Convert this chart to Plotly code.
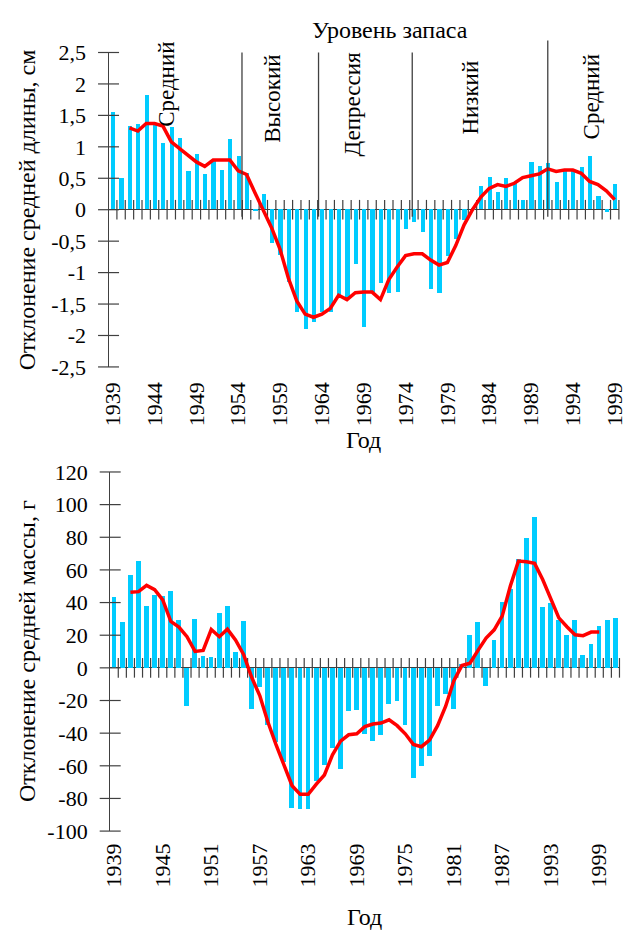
import plotly.graph_objects as go

# ---------------- data ----------------
len_years = list(range(1939, 2000))
len_dev = [1.55, 0.50, 1.33, 1.35, 1.81, 1.34, 1.05, 1.30, 1.13, 0.61,
           0.88, 0.56, 0.76, 0.62, 1.11, 0.85, 0.58, -0.03, 0.24, -0.54,
           -0.72, -1.15, -1.63, -1.91, -1.79, -1.63, -1.63, -1.38, -1.40, -0.87,
           -1.87, -1.32, -1.18, -1.34, -1.31, -0.32, -0.21, -0.37, -1.27, -1.34,
           -0.75, -0.48, -0.17, 0.02, 0.37, 0.52, 0.27, 0.49, 0.42, 0.15,
           0.75, 0.68, 0.73, 0.44, 0.61, 0.61, 0.67, 0.85, 0.21, -0.04,
           0.40]
len_ma_years = list(range(1941, 2000))
len_ma = [1.30, 1.25, 1.37, 1.37, 1.33, 1.08, 0.97, 0.86, 0.76, 0.69,
          0.79, 0.79, 0.79, 0.62, 0.56, 0.27, 0.00, -0.29, -0.63, -1.09,
          -1.45, -1.66, -1.71, -1.66, -1.57, -1.36, -1.43, -1.32, -1.31, -1.31,
          -1.43, -1.11, -0.91, -0.73, -0.70, -0.70, -0.80, -0.88, -0.84, -0.57,
          -0.24, 0.00, 0.20, 0.34, 0.40, 0.37, 0.42, 0.51, 0.54, 0.57,
          0.65, 0.61, 0.63, 0.63, 0.58, 0.45, 0.40, 0.30, 0.16]

mass_years = list(range(1939, 2002))
mass_dev = [43.3, 28.0, 57.0, 65.4, 38.0, 44.7, 43.9, 47.3, 29.4, -23.5,
            30.2, 7.4, 6.6, 33.4, 38.0, 9.9, 28.8, -25.0, -12.0, -35.0,
            -45.7, -57.7, -86.1, -86.7, -86.7, -69.0, -59.2, -49.3, -62.2, -26.6,
            -25.8, -40.4, -44.9, -41.0, -21.9, -20.1, -34.8, -67.2, -60.4, -53.9,
            -23.5, -15.9, -25.0, 2.4, 19.9, 28.2, -11.0, 17.3, 40.6, 48.1,
            66.6, 79.3, 92.2, 37.2, 39.6, 29.6, 19.9, 29.6, 7.8, 14.9,
            25.8, 29.6, 30.6]
mass_ma_years = list(range(1941, 2000))
mass_ma = [46.3, 46.7, 50.5, 47.9, 41.6, 28.4, 25.0, 19.1, 10.1, 10.7,
           23.5, 19.1, 23.7, 17.1, 8.2, -5.8, -17.0, -33.0, -46.9, -60.2,
           -72.2, -77.5, -77.5, -71.2, -65.6, -53.3, -44.9, -41.0, -40.4, -36.0,
           -34.4, -33.8, -31.8, -35.4, -40.4, -46.9, -48.3, -44.3, -35.4, -23.5,
           -8.0, 1.4, 2.8, 10.7, 18.3, 23.3, 31.8, 50.1, 65.4, 65.0,
           64.0, 54.1, 42.1, 30.6, 25.2, 20.3, 19.7, 21.9, 21.9]

len_yticks = [2.5, 2.0, 1.5, 1.0, 0.5, 0.0, -0.5, -1.0, -1.5, -2.0, -2.5]
len_yticklabels = ["2,5", "2", "1,5", "1", "0,5", "0", "-0,5", "-1", "-1,5", "-2", "-2,5"]
len_xticks = list(range(1939, 2000, 5))
mass_yticks = [120, 100, 80, 60, 40, 20, 0, -20, -40, -60, -80, -100]
mass_yticklabels = ["120", "100", "80", "60", "40", "20", "0", "-20", "-40", "-60", "-80", "-100"]
mass_xticks = list(range(1939, 2000, 6))

regime_names = ["Средний", "Высокий", "Депрессия", "Низкий", "Средний"]
regime_bounds = [1954.45, 1963.6, 1974.8, 1991.0]

# ---------------- layout constants ----------------
W, H = 630, 943
FONT = "Liberation Serif, Tinos, Times New Roman, serif"
AX = "#404040"
BAR = "#00CCFF"
RED = "#FF0000"
TICK_SIZE = 22
TITLE_SIZE = 24
REGIME_SIZE = 23

x1_dom = [102.3 / W, 626.8 / W]
y1_dom = [1 - 364.6 / H, 1 - 41.6 / H]
x2_dom = [104.0 / W, 627.4 / W]
y2_dom = [1 - 841.4 / H, 1 - 472.5 / H]
x1_rng = [1938.5, 1999.5]
y1_rng = [-2.5, 2.5]
x2_rng = [1938.5, 2001.5]
y2_rng = [-100, 120]


def to_paper(v, dom, rng):
    return dom[0] + (v - rng[0]) / (rng[1] - rng[0]) * (dom[1] - dom[0])


fig = go.Figure()

# ---- top chart ----
fig.add_trace(go.Bar(x=len_years, y=len_dev, width=0.5, marker=dict(color=BAR, line=dict(width=0)),
                     xaxis="x", yaxis="y", showlegend=False))
fig.add_trace(go.Scatter(x=[y + 0.5 for y in len_years], y=[0] * len(len_years), mode="markers",
                         marker=dict(symbol="line-ns", size=14, line=dict(color=AX, width=1.2)),
                         cliponaxis=False, xaxis="x", yaxis="y", showlegend=False, hoverinfo="skip"))
fig.add_trace(go.Scatter(x=[x1_rng[0]] * len(len_yticks), y=len_yticks, mode="markers",
                         marker=dict(symbol="line-ew", size=15, line=dict(color=AX, width=1.2)),
                         cliponaxis=False, xaxis="x", yaxis="y", showlegend=False, hoverinfo="skip"))
fig.add_trace(go.Scatter(x=len_ma_years, y=len_ma, mode="lines", line=dict(color=RED, width=3.5),
                         xaxis="x", yaxis="y", showlegend=False))

# ---- bottom chart ----
fig.add_trace(go.Bar(x=mass_years, y=mass_dev, width=0.6, marker=dict(color=BAR, line=dict(width=0)),
                     xaxis="x2", yaxis="y2", showlegend=False))
fig.add_trace(go.Scatter(x=[y + 0.5 for y in mass_years], y=[0] * len(mass_years), mode="markers",
                         marker=dict(symbol="line-ns", size=14, line=dict(color=AX, width=1.2)),
                         cliponaxis=False, xaxis="x2", yaxis="y2", showlegend=False, hoverinfo="skip"))
fig.add_trace(go.Scatter(x=[x2_rng[0]] * len(mass_yticks), y=mass_yticks, mode="markers",
                         marker=dict(symbol="line-ew", size=15, line=dict(color=AX, width=1.2)),
                         cliponaxis=False, xaxis="x2", yaxis="y2", showlegend=False, hoverinfo="skip"))
fig.add_trace(go.Scatter(x=mass_ma_years, y=mass_ma, mode="lines", line=dict(color=RED, width=3.5),
                         xaxis="x2", yaxis="y2", showlegend=False))

tickfont = dict(family=FONT, size=TICK_SIZE, color="black")

fig.update_layout(
    width=W, height=H, margin=dict(l=0, r=0, t=0, b=0),
    paper_bgcolor="white", plot_bgcolor="white",
    font=dict(family=FONT, color="black"),
    bargap=0,
    xaxis=dict(domain=x1_dom, range=x1_rng, anchor="y", tickmode="array", tickvals=len_xticks,
               ticktext=[str(v) for v in len_xticks], tickangle=-90, ticks="", showline=False,
               showgrid=False, zeroline=False, tickfont=tickfont, ticklabelstandoff=10,
               ticklabeloverflow="allow", fixedrange=True),
    yaxis=dict(domain=y1_dom, range=y1_rng, anchor="x", tickmode="array", tickvals=len_yticks,
               ticktext=len_yticklabels, ticks="", showline=True, linecolor=AX, linewidth=1.3,
               zeroline=True, zerolinecolor=AX, zerolinewidth=1.3, showgrid=False,
               tickfont=tickfont, ticklabelstandoff=17, fixedrange=True),
    xaxis2=dict(domain=x2_dom, range=x2_rng, anchor="y2", tickmode="array", tickvals=mass_xticks,
                ticktext=[str(v) for v in mass_xticks], tickangle=-90, ticks="", showline=False,
                showgrid=False, zeroline=False, tickfont=tickfont, ticklabelstandoff=7,
                ticklabeloverflow="allow", fixedrange=True),
    yaxis2=dict(domain=y2_dom, range=y2_rng, anchor="x2", tickmode="array", tickvals=mass_yticks,
                ticktext=mass_yticklabels, ticks="", showline=True, linecolor=AX, linewidth=1.3,
                zeroline=True, zerolinecolor=AX, zerolinewidth=1.3, showgrid=False,
                tickfont=tickfont, ticklabelstandoff=17, fixedrange=True),
)

# regime separator lines (top chart)
sep_tops = [2.5, 2.5, 2.5, 2.69]
for b, t in zip(regime_bounds, sep_tops):
    xp = to_paper(b, x1_dom, x1_rng)
    fig.add_shape(type="line", xref="paper", yref="paper", x0=xp, x1=xp,
                  y0=to_paper(-0.11, y1_dom, y1_rng), y1=to_paper(t, y1_dom, y1_rng),
                  line=dict(color=AX, width=1.3))

# regime labels (positions in data coords of top chart)
regime_pos = [(1945.4, 1.99), (1958.0, 1.76), (1967.7, 1.67), (1981.8, 1.78), (1996.2, 1.79)]
for name, (xv, yv) in zip(regime_names, regime_pos):
    fig.add_annotation(x=to_paper(xv, x1_dom, x1_rng), y=to_paper(yv, y1_dom, y1_rng),
                       xref="paper", yref="paper", text=name, textangle=-90, showarrow=False,
                       xanchor="center", yanchor="middle",
                       font=dict(family=FONT, size=REGIME_SIZE, color="black"))

# titles
fig.add_annotation(x=391.5 / W, y=1 - 18 / H, xref="paper", yref="paper", text="Уровень запаса",
                   showarrow=False, xanchor="center", yanchor="middle",
                   font=dict(family=FONT, size=TITLE_SIZE, color="black"))
fig.add_annotation(x=18 / W, y=sum(y1_dom) / 2, xref="paper", yref="paper",
                   text="Отклонение средней длины, см", textangle=-90, showarrow=False,
                   xanchor="center", yanchor="middle", font=dict(family=FONT, size=TITLE_SIZE, color="black"))
fig.add_annotation(x=18 / W, y=sum(y2_dom) / 2, xref="paper", yref="paper",
                   text="Отклонение средней массы, г", textangle=-90, showarrow=False,
                   xanchor="center", yanchor="middle", font=dict(family=FONT, size=TITLE_SIZE, color="black"))
fig.add_annotation(x=sum(x1_dom) / 2, y=1 - 440 / H, xref="paper", yref="paper", text="Год",
                   showarrow=False, xanchor="center", yanchor="middle",
                   font=dict(family=FONT, size=TITLE_SIZE, color="black"))
fig.add_annotation(x=sum(x2_dom) / 2, y=1 - 930 / H, xref="paper", yref="paper", text="Год",
                   showarrow=False, xanchor="center", yanchor="middle",
                   font=dict(family=FONT, size=TITLE_SIZE, color="black"))

fig.write_html("out.html", post_script="document.body.style.margin='0';document.body.style.overflow='hidden';")
